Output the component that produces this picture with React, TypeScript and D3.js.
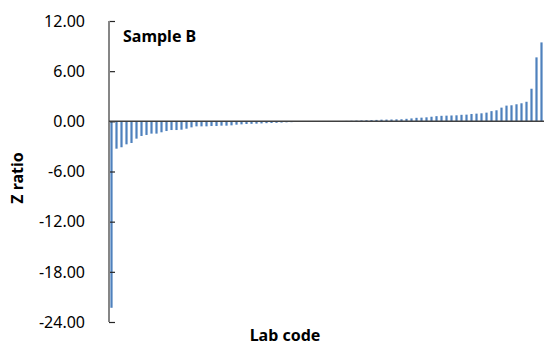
import * as d3 from "d3";
import React, { useEffect, useRef } from "react";

// z ratios per lab, sorted ascending (lab codes not shown)
const zNegative = [
  -22.3, -3.27, -3.1, -2.75, -2.59, -2.07, -1.75, -1.63, -1.47, -1.47,
  -1.31, -1.16, -1.04, -1.04, -1.0, -0.88, -0.72, -0.6, -0.6, -0.6,
  -0.56, -0.56, -0.52, -0.52, -0.48, -0.4, -0.36, -0.32, -0.3, -0.28,
  -0.25, -0.22, -0.2, -0.18, -0.15, -0.12, -0.1, -0.08, -0.06, -0.04,
  -0.03, -0.02, -0.01,
];
const zPositive = [
  0.0, 0.01, 0.02, 0.04, 0.05, 0.07, 0.09, 0.11, 0.13, 0.15,
  0.17, 0.2, 0.21, 0.22, 0.24, 0.25, 0.3, 0.35, 0.42, 0.44,
  0.48, 0.55, 0.62, 0.66, 0.68, 0.7, 0.72, 0.78, 0.8, 0.88,
  0.92, 0.96, 1.04, 1.22, 1.32, 1.64, 1.88, 1.92, 2.04, 2.16,
  2.34, 3.9, 7.65, 9.44,
];
const yTicks = [12, 6, 0, -6, -12, -18, -24];

const zValues = [...zNegative, ...zPositive];

export default function App() {
  const ref = useRef<SVGSVGElement | null>(null);

  useEffect(() => {
    const width = 544;
    const height = 348;
    const svg = d3.select(ref.current);
    svg.selectAll("*").remove();
    svg.attr("width", width).attr("height", height);

    const font = "'Noto Sans', 'Open Sans', sans-serif";
    const left = 109;
    const right = 544;

    const x = d3
      .scalePoint<number>()
      .domain(zValues.map((_, i) => i))
      .range([left, right])
      .padding(0.5);

    const y = d3.scaleLinear().domain([-24, 12]).range([322, 21]);

    const g = svg.append("g");

    g.selectAll("rect.bar")
      .data(zValues)
      .enter()
      .append("rect")
      .attr("class", "bar")
      .attr("x", (_, i) => x(i)! - 1.1)
      .attr("width", 2.2)
      .attr("y", (d) => Math.min(y(d), y(0)))
      .attr("height", (d) => Math.abs(y(d) - y(0)))
      .attr("fill", "#4F81BD");

    // y axis: gray line, ticks pointing into the plot
    const yAxis = g
      .append("g")
      .attr("transform", `translate(${left},0)`)
      .call(
        d3
          .axisRight(y)
          .tickValues(yTicks)
          .tickSize(6)
          .tickFormat(() => "")
      );
    yAxis.select(".domain").remove();
    yAxis.selectAll(".tick line").attr("stroke", "#262626").attr("stroke-width", 1.2);

    g.append("line")
      .attr("x1", left)
      .attr("x2", left)
      .attr("y1", y(12))
      .attr("y2", y(-24))
      .attr("stroke", "#868686")
      .attr("stroke-width", 2);

    g.selectAll("text.ytick")
      .data(yTicks)
      .enter()
      .append("text")
      .attr("class", "ytick")
      .attr("x", 85)
      .attr("y", (d) => y(d))
      .attr("dy", "0.36em")
      .attr("text-anchor", "end")
      .attr("font-family", font)
      .attr("font-size", 16)
      .attr("fill", "#000")
      .text((d) => d.toFixed(2));

    // zero line (category axis)
    g.append("line")
      .attr("x1", left)
      .attr("x2", right)
      .attr("y1", y(0))
      .attr("y2", y(0))
      .attr("stroke", "#404040")
      .attr("stroke-width", 1.5);

    g.append("text")
      .attr("x", 123)
      .attr("y", 42)
      .attr("font-family", font)
      .attr("font-size", 16)
      .attr("font-weight", "bold")
      .text("Sample B");

    g.append("text")
      .attr("transform", `translate(23,178) rotate(-90)`)
      .attr("text-anchor", "middle")
      .attr("font-family", font)
      .attr("font-size", 16)
      .attr("font-weight", "bold")
      .text("Z ratio");

    g.append("text")
      .attr("x", 285)
      .attr("y", 341)
      .attr("text-anchor", "middle")
      .attr("font-family", font)
      .attr("font-size", 16)
      .attr("font-weight", "bold")
      .text("Lab code");
  }, []);

  return (
    <svg
      ref={ref}
      style={{ position: "absolute", left: 0, top: 0, background: "#fff" }}
    />
  );
}
